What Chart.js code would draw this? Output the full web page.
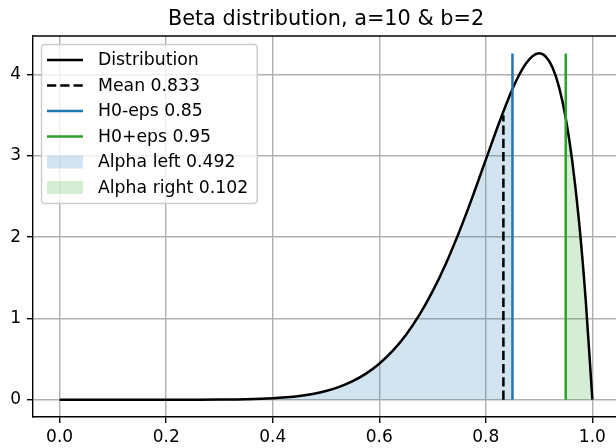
<!DOCTYPE html>
<html><head><meta charset="utf-8">
<script src="https://cdn.jsdelivr.net/npm/chart.js@4.4.1/dist/chart.umd.min.js"></script>
<style>
html,body{margin:0;padding:0;overflow:hidden;background:#ffffff;width:616px;height:448px}
#wrap{position:relative;width:624px;height:448px}
</style>
</head><body><div id="wrap"><canvas id="c" width="624" height="448"></canvas></div>
<script>
// ---- data ----
const titleText = "Beta distribution, a=10 & b=2";
const xValues = [0, 0.05, 0.1, 0.15, 0.2, 0.25, 0.3, 0.35, 0.4, 0.425, 0.45, 0.475, 0.5, 0.525, 0.55, 0.575,
  0.6, 0.625, 0.65, 0.675, 0.7, 0.725, 0.75, 0.775, 0.8, 0.825, 0.85, 0.8625, 0.875, 0.8875, 0.9,
  0.9125, 0.925, 0.9375, 0.95, 0.9625, 0.975, 0.9875, 1.0];
const pdfValues = [0, 0, 0, 0, 0, 0.0003, 0.0015, 0.0056, 0.017, 0.029, 0.046, 0.071, 0.107, 0.158, 0.228, 0.321,
  0.443, 0.600, 0.797, 1.040, 1.332, 1.674, 2.065, 2.496, 2.953, 3.408, 3.822, 3.995, 4.134, 4.227, 4.262,
  4.222, 4.090, 3.846, 3.466, 2.924, 2.190, 1.228, 0];
const meanX = 0.833, meanTop = 3.50;
const lowerEps = 0.85, upperEps = 0.95, epsTop = 4.26;
const alphaLeft = 0.492, alphaRight = 0.102;
const seriesLabels = ["Distribution", "Mean " + meanX, "H0-eps " + lowerEps, "H0+eps " + upperEps,
  "Alpha left " + alphaLeft, "Alpha right " + alphaRight];
const xTickValues = [0, 0.2, 0.4, 0.6, 0.8, 1.0];
const yTickValues = [0, 1, 2, 3, 4];

// ---- build ----
const curve = xValues.map((x, i) => ({x: x, y: pdfValues[i]}));
const leftFill = curve.filter(p => p.x <= lowerEps);
const rightFill = curve.filter(p => p.x >= upperEps);

const FONT = "'DejaVu Sans', sans-serif";
const BLUE = '#1f77b4', GREEN = '#2ca02c';

const datasets = [
  {label: seriesLabels[0], data: curve, borderColor: '#000', borderWidth: 2.5, pointRadius: 0,
   cubicInterpolationMode: 'monotone', fill: false, order: 2, kind: 'line'},
  {label: seriesLabels[1], data: [{x: meanX, y: 0}, {x: meanX, y: meanTop}], borderColor: '#000',
   borderWidth: 2.5, borderDash: [9.25, 4], pointRadius: 0, fill: false, order: 1, kind: 'line'},
  {label: seriesLabels[2], data: [{x: lowerEps, y: 0}, {x: lowerEps, y: epsTop}], borderColor: BLUE,
   borderWidth: 2.5, pointRadius: 0, fill: false, order: 1, kind: 'line'},
  {label: seriesLabels[3], data: [{x: upperEps, y: 0}, {x: upperEps, y: epsTop}], borderColor: GREEN,
   borderWidth: 2.5, pointRadius: 0, fill: false, order: 1, kind: 'line'},
  {label: seriesLabels[4], data: leftFill, borderColor: 'rgba(0,0,0,0)', borderWidth: 0, pointRadius: 0,
   backgroundColor: 'rgba(31,119,180,0.2)', cubicInterpolationMode: 'monotone', fill: 'origin', order: 5, kind: 'patch'},
  {label: seriesLabels[5], data: rightFill, borderColor: 'rgba(0,0,0,0)', borderWidth: 0, pointRadius: 0,
   backgroundColor: 'rgba(44,160,44,0.2)', cubicInterpolationMode: 'monotone', fill: 'origin', order: 5, kind: 'patch'}
];

const frameAndTitle = {
  id: 'frameAndTitle',
  afterDraw(chart) {
    const ctx = chart.ctx, a = chart.chartArea;
    ctx.save();
    // top / right spines
    ctx.strokeStyle = '#000'; ctx.lineWidth = 1.4;
    ctx.beginPath(); ctx.moveTo(a.left - 0.7, a.top); ctx.lineTo(a.right + 1, a.top); ctx.stroke();
    ctx.beginPath(); ctx.moveTo(a.right, a.top); ctx.lineTo(a.right, a.bottom); ctx.stroke();
    // title
    ctx.fillStyle = '#000';
    ctx.font = '20.8px ' + FONT;
    ctx.textAlign = 'center'; ctx.textBaseline = 'alphabetic';
    ctx.fillText(titleText, (a.left + a.right) / 2, 25);
    // legend
    const ds = chart.data.datasets;
    const left = 41.5, top = 44.5, rowH = 25.5, fs = 17.3;
    ctx.font = fs + 'px ' + FONT;
    let maxW = 0;
    ds.forEach(d => { maxW = Math.max(maxW, ctx.measureText(d.label).width); });
    const textX = 98;
    const w = textX - left + maxW + 9, h = 159;
    const r = 3.4;
    ctx.beginPath();
    ctx.moveTo(left + r, top);
    ctx.arcTo(left + w, top, left + w, top + h, r);
    ctx.arcTo(left + w, top + h, left, top + h, r);
    ctx.arcTo(left, top + h, left, top, r);
    ctx.arcTo(left, top, left + w, top, r);
    ctx.closePath();
    ctx.fillStyle = 'rgba(255,255,255,0.8)'; ctx.fill();
    ctx.strokeStyle = '#cccccc'; ctx.lineWidth = 1.4; ctx.stroke();
    ds.forEach((d, i) => {
      const cy = 60 + i * rowH;
      if (d.kind === 'line') {
        ctx.strokeStyle = d.borderColor; ctx.lineWidth = 2.5;
        ctx.setLineDash(d.borderDash || []);
        ctx.beginPath(); ctx.moveTo(47, cy); ctx.lineTo(83, cy); ctx.stroke();
        ctx.setLineDash([]);
      } else {
        ctx.fillStyle = d.backgroundColor;
        ctx.fillRect(47, cy - 6.5, 36, 13);
      }
      ctx.fillStyle = '#000';
      ctx.textAlign = 'left'; ctx.textBaseline = 'middle';
      ctx.fillText(d.label, textX, cy + 1);
    });
    ctx.restore();
  }
};

const gridCommon = {color: '#b0b0b0', lineWidth: 1.4, tickColor: '#000', tickLength: 6, tickWidth: 1.4, drawTicks: true};

new Chart(document.getElementById('c'), {
  type: 'line',
  data: {datasets: datasets},
  options: {
    responsive: false, animation: false, devicePixelRatio: 1,
    layout: {padding: {top: 36, right: 5, left: 0, bottom: 0}},
    plugins: {legend: {display: false}, title: {display: false}, tooltip: {enabled: false}},
    elements: {line: {tension: 0}},
    scales: {
      x: {
        type: 'linear', min: -0.05, max: 1.05,
        afterBuildTicks: s => { s.ticks = xTickValues.map(v => ({value: v})); },
        afterFit: s => { s.height = 31; },
        grid: gridCommon,
        border: {color: '#000', width: 1.4},
        ticks: {color: '#000', font: {family: FONT, size: 17}, padding: 4, maxRotation: 0,
          callback: v => Number(v).toFixed(1)}
      },
      y: {
        type: 'linear', min: -0.213, max: 4.475,
        afterBuildTicks: s => { s.ticks = yTickValues.map(v => ({value: v})); },
        afterFit: s => { s.width = 33; },
        grid: gridCommon,
        border: {color: '#000', width: 1.4},
        ticks: {color: '#000', font: {family: FONT, size: 17}, padding: 6,
          callback: v => String(v)}
      }
    }
  },
  plugins: [frameAndTitle]
});
</script>
</body></html>
